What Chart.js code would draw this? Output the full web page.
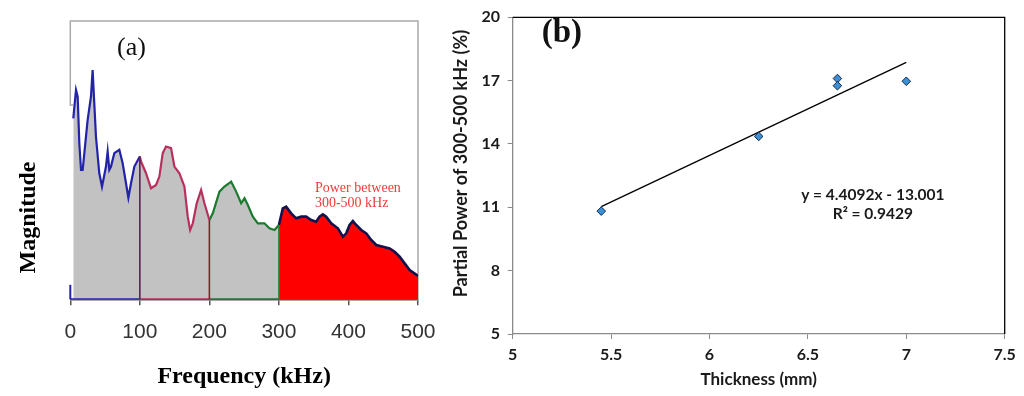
<!DOCTYPE html>
<html><head><meta charset="utf-8">
<script src="https://cdn.jsdelivr.net/npm/chart.js@4.4.0/dist/chart.umd.min.js"></script>
<style>
html,body{margin:0;padding:0;background:#fff;width:1024px;height:396px;overflow:hidden;}
#wa{position:absolute;left:0;top:0;width:450px;height:396px;}
#wb{position:absolute;left:450px;top:0;width:574px;height:396px;}
</style></head><body>
<div id="wa"><canvas id="ca" width="450" height="396"></canvas></div>
<div id="wb"><canvas id="cb" width="574" height="396"></canvas></div>
<script>
// ---------- Panel (a) data ----------
const freqKHz = [4.3, 8.2, 10.6, 13.0, 15.4, 17.8, 20.2, 24.9, 29.7, 32.1, 34.5, 36.9, 41.7, 45.6, 51.3, 53.7, 56.1, 58.5, 63.3, 70.5, 75.3, 80.1, 83.5, 87.3, 92.1, 100, 101.7, 108.9, 116.1, 123.3, 128.1, 132.9, 137.7, 144.9, 149.7, 156.9, 164.1, 168.9, 172.3, 176.1, 181.8, 188.1, 192.9, 200, 204.9, 214.5, 221.7, 231.3, 238.5, 245.7, 250.5, 255.3, 262.5, 269.7, 279.2, 286.4, 293.6, 300, 305.6, 310.4, 317.6, 324.8, 332.0, 339.2, 346.4, 353.6, 358.4, 363.2, 368.0, 375.2, 384.8, 392.0, 396.8, 401.6, 406.4, 411.2, 418.4, 425.6, 432.8, 440.0, 449.6, 459.2, 466.4, 473.6, 480.8, 488.0, 500];
const magnitude = [65.0, 75.2, 72.8, 56.0, 46.5, 46.5, 52.5, 64.4, 72.8, 82.4, 70.4, 58.4, 45.3, 40.5, 47.7, 53.1, 46.5, 47.7, 52.5, 53.7, 48.9, 41.7, 36.5, 41.7, 47.7, 51.3, 49.5, 45.3, 39.9, 41.1, 44.1, 52.5, 54.9, 54.3, 47.7, 45.3, 40.5, 29.7, 24.9, 27.3, 34.5, 39.3, 34.5, 28.5, 30.9, 38.7, 40.5, 42.3, 38.7, 34.5, 36.3, 33.9, 29.7, 27.3, 27.3, 25.5, 24.9, 26.7, 32.7, 33.3, 30.9, 29.1, 29.7, 29.7, 28.5, 27.9, 29.7, 30.5, 29.7, 27.3, 25.5, 22.5, 23.7, 26.7, 28.1, 26.7, 24.9, 23.7, 21.3, 19.5, 18.9, 18.3, 17.1, 15.3, 12.9, 10.5, 8.4];
const bandEdges = [0, 100, 200, 300, 500];
const freqTicks = [0, 100, 200, 300, 400, 500];

// ---------- Panel (b) data ----------
const thicknessMm = [5.45, 6.25, 6.65, 6.65, 7.0];
const partialPowerPct = [10.82, 14.36, 17.10, 16.76, 16.97];
const fitSlope = 4.4092, fitIntercept = -13.001;
const fitRange = [5.45, 7.0];
const thicknessTicks = [5, 5.5, 6, 6.5, 7, 7.5];
const powerTicks = [5, 8, 11, 14, 17, 20];

// ---------- styles ----------
const bandLine = ['#2222aa', '#b8305e', '#1b7a2e', '#12124e'];
const bandFill = ['#c2c2c2', '#c2c2c2', '#c2c2c2', '#ff0000'];
const edgeLine = {100: '#5a2050', 200: '#8e1c24', 300: '#1f8a30'};

const notesPlugin = {
  id: 'notes',
  afterDraw(chart, args, opts) {
    const {ctx, scales} = chart;
    const x = scales.x, y = scales.y;
    (opts.items || []).forEach(n => {
      ctx.save();
      ctx.font = n.font; ctx.fillStyle = n.color;
      ctx.textAlign = n.align || 'center'; ctx.textBaseline = 'middle';
      ctx.translate(x.getPixelForValue(n.x), y.getPixelForValue(n.y));
      if (n.rot) ctx.rotate(n.rot);
      ctx.fillText(n.text, 0, 0);
      ctx.restore();
    });
  }
};

const frameA = {
  id: 'frameA',
  beforeDatasetsDraw(chart) {
    const {ctx, chartArea: a, scales: {x, y}} = chart;
    ctx.save();
    ctx.strokeStyle = '#a9a9a9'; ctx.lineWidth = 1.5;
    const yl = y.getPixelForValue(69.8);
    ctx.beginPath();
    ctx.moveTo(a.left + 3, yl); ctx.lineTo(a.left, yl); ctx.lineTo(a.left, a.top);
    ctx.lineTo(a.right, a.top); ctx.lineTo(a.right, a.bottom);
    ctx.stroke();
    ctx.strokeStyle = '#2222aa'; ctx.lineWidth = 2;
    ctx.beginPath();
    ctx.moveTo(x.getPixelForValue(0), y.getPixelForValue(0));
    ctx.lineTo(x.getPixelForValue(0), y.getPixelForValue(5.2));
    ctx.stroke();
    ctx.restore();
  }
};

const frameB = {
  id: 'frameB',
  afterDatasetsDraw(chart) {
    const {ctx, chartArea: a} = chart;
    ctx.save();
    ctx.strokeStyle = '#000'; ctx.lineWidth = 1.3;
    ctx.beginPath();
    ctx.moveTo(a.left, a.top); ctx.lineTo(a.right, a.top); ctx.lineTo(a.right, a.bottom);
    ctx.stroke();
    ctx.restore();
  }
};

// ---------- Panel (a) datasets ----------
const pts = freqKHz.map((f, i) => ({x: f, y: magnitude[i]}));
const dsA = [];
for (let b = 0; b < bandEdges.length - 1; b++) {
  const lo = bandEdges[b], hi = bandEdges[b + 1];
  dsA.push({
    data: pts.filter(p => p.x >= lo && p.x <= hi),
    borderColor: bandLine[b], borderWidth: b === 3 ? 2.6 : 2.2,
    backgroundColor: bandFill[b], fill: 'origin', pointRadius: 0, tension: 0, order: 3
  });
  if (b < 3) {
    dsA.push({
      data: [{x: lo, y: 0}, {x: hi, y: 0}],
      borderColor: bandLine[b], borderWidth: 2, fill: false, pointRadius: 0, order: 2
    });
  }
}
[100, 200, 300].forEach(e => {
  const i = freqKHz.indexOf(e);
  dsA.push({
    data: [{x: e, y: 0}, {x: e, y: magnitude[i]}],
    borderColor: edgeLine[e], borderWidth: 1.6, fill: false, pointRadius: 0, order: 1
  });
});

new Chart(document.getElementById('ca'), {
  type: 'line',
  data: {datasets: dsA},
  plugins: [frameA, notesPlugin],
  options: {
    responsive: false, animation: false, devicePixelRatio: 1,
    layout: {padding: {left: 70.3, right: 32, top: 21, bottom: 0}},
    plugins: {
      legend: {display: false}, tooltip: {enabled: false},
      notes: {items: [
        {text: '(a)', x: 88, y: 90.3, font: '26px "Liberation Serif"', color: '#111'},
        {text: 'Magnitude', x: -59, y: 29.4, rot: -Math.PI / 2, font: 'bold 24px "Liberation Serif"', color: '#000'},
        {text: 'Power between', x: 351.8, y: 40.0, align: 'left', font: '14px "Liberation Serif"', color: '#f03a3a'},
        {text: '300-500 kHz', x: 351.8, y: 34.6, align: 'left', font: '14px "Liberation Serif"', color: '#f03a3a'}
      ]}
    },
    scales: {
      x: {
        type: 'linear', min: 0, max: 500,
        afterBuildTicks: s => { s.ticks = freqTicks.map(v => ({value: v})); },
        afterFit: s => { s.height = 96.7; },
        grid: {display: true, drawOnChartArea: false, drawTicks: true, tickLength: 6, tickColor: '#555', lineWidth: 1.5},
        border: {display: true, color: '#555', width: 1.5},
        ticks: {color: '#333', font: {family: '"Liberation Sans"', size: 21}, padding: 14, maxRotation: 0},
        title: {display: true, text: 'Frequency (kHz)', color: '#000',
                font: {family: '"Liberation Serif"', weight: 'bold', size: 24}, padding: {top: 0, bottom: 4.6}}
      },
      y: {display: false, min: 0, max: 100}
    }
  }
});

// ---------- Panel (b) ----------
const fitPts = fitRange.map(t => ({x: t, y: fitSlope * t + fitIntercept}));
const tickFont = {family: 'Lato', weight: 'bold', size: 16};

new Chart(document.getElementById('cb'), {
  type: 'scatter',
  data: {datasets: [
    {data: thicknessMm.map((t, i) => ({x: t, y: partialPowerPct[i]})),
     pointStyle: 'rectRot', pointRadius: 4.3, backgroundColor: '#3b8fd4', borderColor: '#14284a', borderWidth: 1, order: 1},
    {data: fitPts, showLine: true, borderColor: '#000', borderWidth: 1.3, pointRadius: 0, fill: false, order: 2}
  ]},
  plugins: [frameB, notesPlugin],
  options: {
    responsive: false, animation: false, devicePixelRatio: 1,
    layout: {padding: {left: 0, right: 19.3, top: 11.7, bottom: 0}},
    plugins: {
      legend: {display: false}, tooltip: {enabled: false},
      notes: {items: [
        {text: '(b)', x: 5.25, y: 19.24, font: 'bold 33px "Liberation Serif"', color: '#111'},
        {text: 'y = 4.4092x - 13.001', x: 6.83, y: 11.56, font: 'bold 15.5px Lato', color: '#1a1a1a'},
        {text: 'R\u00B2 = 0.9429', x: 6.83, y: 10.68, font: 'bold 15.5px Lato', color: '#1a1a1a'},
        {text: 'Partial Power of 300-500 kHz (%)', x: 4.737, y: 13.07, rot: -Math.PI / 2, font: 'bold 18px Lato', color: '#1a1a1a'}
      ]}
    },
    scales: {
      x: {
        type: 'linear', min: 5, max: 7.5,
        afterBuildTicks: s => { s.ticks = thicknessTicks.map(v => ({value: v})); },
        afterFit: s => { s.height = 62; },
        grid: {display: true, drawOnChartArea: false, drawTicks: true, tickLength: 5, tickColor: '#8a8a8a'},
        border: {display: true, color: '#8a8a8a', width: 1.3},
        ticks: {color: '#1a1a1a', font: tickFont, padding: 6, maxRotation: 0, callback: v => String(v)},
        title: {display: true, text: 'Thickness (mm)', color: '#1a1a1a',
                font: {family: 'Lato', weight: 'bold', size: 17}, padding: {top: 0, bottom: 6}}
      },
      y: {
        type: 'linear', min: 5, max: 20,
        afterBuildTicks: s => { s.ticks = powerTicks.map(v => ({value: v})); },
        afterFit: s => { s.width = 62.7; },
        grid: {display: true, drawOnChartArea: false, drawTicks: true, tickLength: 5, tickColor: '#8a8a8a'},
        border: {display: true, color: '#8a8a8a', width: 1.3},
        ticks: {color: '#1a1a1a', font: tickFont, padding: 7.7, callback: v => String(v)}
      }
    }
  }
});
</script>
</body></html>
